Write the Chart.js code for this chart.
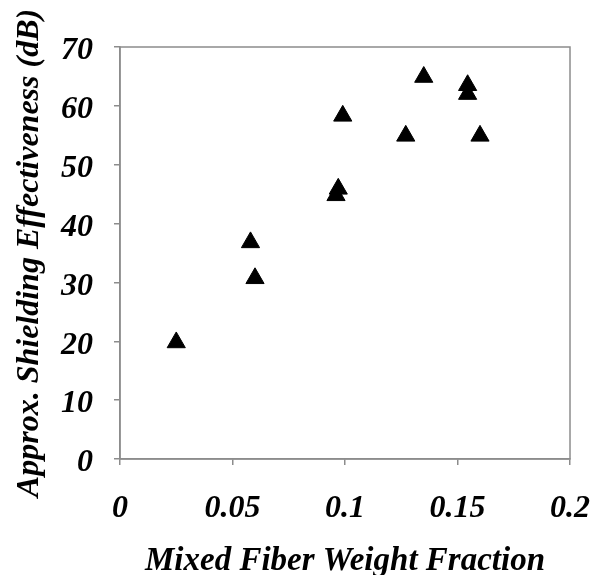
<!DOCTYPE html>
<html>
<head>
<meta charset="utf-8">
<script src="https://cdn.jsdelivr.net/npm/chart.js@4/dist/chart.umd.min.js"></script>
<style>
  html, body { margin: 0; padding: 0; background: #fff; }
  #wrap { width: 593px; height: 575px; position: relative; }
</style>
</head>
<body>
<div id="wrap"><canvas id="c" width="593" height="575"></canvas></div>
<script>
const fiberFraction = [0.025, 0.058, 0.060, 0.097, 0.096, 0.099, 0.127, 0.135, 0.1545, 0.1545, 0.160];
const shieldingDB   = [19.8, 36.8, 30.7, 45.9, 44.8, 58.3, 54.9, 64.9, 63.5, 62.0, 54.9];
const xTicks = [0, 0.05, 0.1, 0.15, 0.2];
const yTicks = [0, 10, 20, 30, 40, 50, 60, 70];
const xTitle = 'Mixed Fiber Weight Fraction';
const yTitle = 'Approx. Shielding Effectiveness (dB)';

const points = fiberFraction.map((x, i) => ({ x: x, y: shieldingDB[i] }));
const FONT = '"Liberation Serif", "Times New Roman", serif';
const AXIS = '#8c8c8c';

const frame = {
  id: 'frame',
  afterDraw(chart) {
    const a = chart.chartArea, ctx = chart.ctx;
    ctx.save();
    ctx.strokeStyle = AXIS;
    ctx.lineWidth = 1.5;
    ctx.strokeRect(a.left, a.top, a.right - a.left, a.bottom - a.top);
    ctx.restore();
  }
};

new Chart(document.getElementById('c'), {
  type: 'scatter',
  data: {
    datasets: [{
      data: points,
      pointStyle: 'triangle',
      pointRadius: 10.5,
      pointHoverRadius: 10.5,
      backgroundColor: '#000',
      borderColor: '#000',
      borderWidth: 1
    }]
  },
  options: {
    responsive: false,
    animation: false,
    events: [],
    layout: { padding: { top: 47, right: 23, left: 0, bottom: 0 } },
    plugins: { legend: { display: false }, tooltip: { enabled: false } },
    scales: {
      x: {
        type: 'linear',
        min: 0, max: 0.2,
        afterBuildTicks(s) { s.ticks = xTicks.map(v => ({ value: v })); },
        afterFit(s) { s.height = 116; s.paddingLeft = 0; s.paddingRight = 0; },
        grid: { drawOnChartArea: false, drawTicks: true, tickLength: 6, color: AXIS, lineWidth: 1.5 },
        border: { display: true, color: AXIS, width: 1.5 },
        ticks: {
          padding: 25,
          color: '#000',
          maxRotation: 0,
          font: { family: FONT, size: 32, weight: 'bold', style: 'italic' },
          callback: v => String(v)
        },
        title: {
          display: true,
          text: xTitle,
          color: '#000',
          font: { family: FONT, size: 33, weight: 'bold', style: 'italic', lineHeight: 0.85 },
          padding: { top: 0, bottom: 0 }
        }
      },
      y: {
        type: 'linear',
        min: 0, max: 70,
        afterBuildTicks(s) { s.ticks = yTicks.map(v => ({ value: v })); },
        afterFit(s) { s.width = 120; s.paddingTop = 0; s.paddingBottom = 0; },
        grid: { drawOnChartArea: false, drawTicks: true, tickLength: 6, color: AXIS, lineWidth: 1.5 },
        border: { display: true, color: AXIS, width: 1.5 },
        ticks: {
          padding: 21,
          labelOffset: 4,
          color: '#000',
          font: { family: FONT, size: 32, weight: 'bold', style: 'italic' },
          callback: v => String(v)
        },
        title: {
          display: true,
          text: yTitle,
          color: '#000',
          font: { family: FONT, size: 32, weight: 'bold', style: 'italic', lineHeight: 1.1 },
          padding: { top: 12, bottom: 0 }
        }
      }
    }
  },
  plugins: [frame]
});
</script>
</body>
</html>
